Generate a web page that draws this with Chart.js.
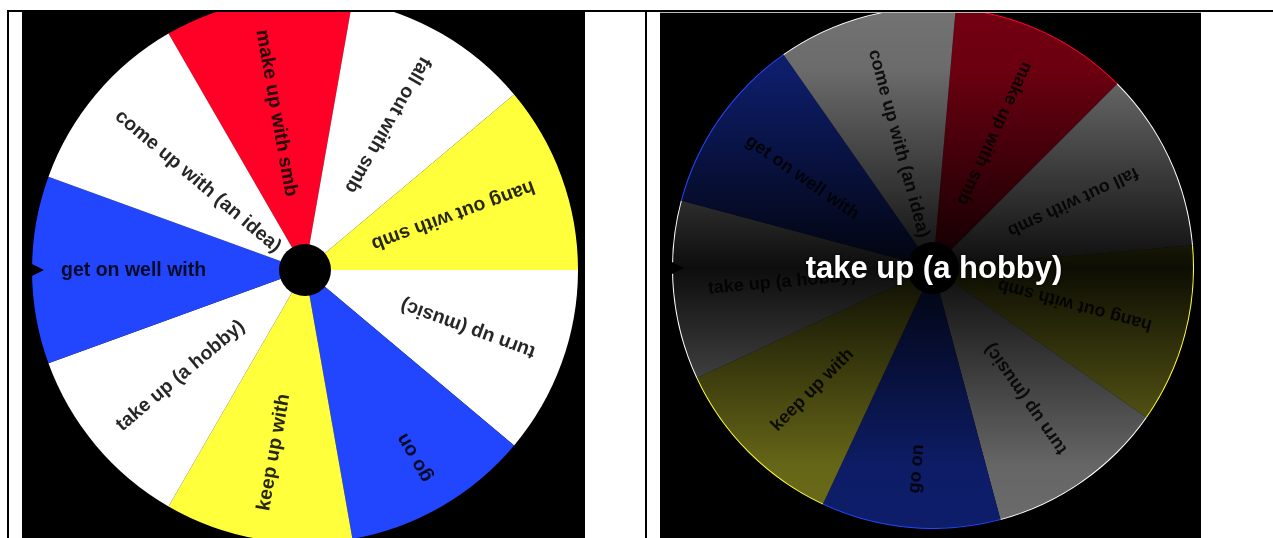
<!DOCTYPE html>
<html lang="en">
<head>
  <meta charset="UTF-8">
  <title>Spin wheel</title>
  <script src="https://cdn.jsdelivr.net/npm/chart.js@4.4.1/dist/chart.umd.min.js"></script>
  <style>
    body { margin: 0; background: #fff; font-family: 'Liberation Sans', Arial, sans-serif; }
    .line { position: absolute; background: #000; }
    .panel { position: absolute; background: #000; overflow: hidden; }
    .panel canvas { position: absolute; }
  </style>
</head>
<body>
  <div class="line" style="left:7px; top:10px; width:1266px; height:2px;"></div>
  <div class="line" style="left:7px; top:10px; width:2px; height:528px;"></div>
  <div class="line" style="left:645px; top:10px; width:2px; height:528px;"></div>

  <div class="panel" style="left:22px; top:12px; width:563px; height:526px;">
    <canvas id="wheel1" width="546" height="546" style="left:10px; top:-15px;"></canvas>
  </div>
  <div class="panel" style="left:660px; top:12px; width:541px; height:526px; border-top:1px solid #bbb; box-sizing:border-box;">
    <canvas id="wheel2" width="522" height="522" style="left:12px; top:-6px;"></canvas>
  </div>

  <script>
    // slices clockwise, starting at the first boundary
    const phrases = ['make up with smb', 'fall out with smb', 'hang out with smb', 'turn up (music)', 'go on',
      'keep up with', 'take up (a hobby)', 'get on well with', 'come up with (an idea)'];
    const shares = [1, 1, 1, 1, 1, 1, 1, 1, 1];
    const sliceColors = ['#ff0026', '#ffffff', '#ffff3c', '#ffffff', '#2146fd',
      '#ffff3c', '#ffffff', '#2146fd', '#ffffff'];
    const winner = 'take up (a hobby)';

    function labelPlugin(inset, size) {
      return {
        id: 'labels',
        afterDatasetsDraw(chart) {
          const ctx = chart.ctx;
          const arcs = chart.getDatasetMeta(0).data;
          ctx.save();
          ctx.font = 'bold ' + size + 'px "Liberation Sans", Arial, sans-serif';
          ctx.fillStyle = 'rgba(0,0,0,0.85)';
          ctx.textAlign = 'left';
          ctx.textBaseline = 'middle';
          arcs.forEach((arc, i) => {
            const mid = (arc.startAngle + arc.endAngle) / 2;
            ctx.save();
            ctx.translate(arc.x, arc.y);
            ctx.rotate(mid + Math.PI);
            ctx.fillText(chart.data.labels[i], -(arc.outerRadius - inset), 1);
            ctx.restore();
          });
          // hub and pointer
          const a = arcs[0];
          ctx.fillStyle = '#000';
          ctx.beginPath();
          ctx.arc(a.x, a.y, 26, 0, Math.PI * 2);
          ctx.fill();
          ctx.beginPath();
          ctx.moveTo(a.x - a.outerRadius - 2, a.y - 7);
          ctx.lineTo(a.x - a.outerRadius + 12, a.y);
          ctx.lineTo(a.x - a.outerRadius - 2, a.y + 7);
          ctx.fill();
          ctx.restore();
        }
      };
    }

    const shadePlugin = {
      id: 'shade',
      afterDraw(chart) {
        const ctx = chart.ctx;
        const a = chart.getDatasetMeta(0).data[0];
        const r = a.outerRadius;
        const g = ctx.createLinearGradient(0, a.y - r, 0, a.y + r);
        g.addColorStop(0, 'rgba(0,0,0,0.55)');
        g.addColorStop(0.12, 'rgba(0,0,0,0.58)');
        g.addColorStop(0.5, 'rgba(0,0,0,0.95)');
        g.addColorStop(0.88, 'rgba(0,0,0,0.6)');
        g.addColorStop(1, 'rgba(0,0,0,0.58)');
        ctx.save();
        ctx.fillStyle = g;
        ctx.beginPath();
        ctx.arc(a.x, a.y, r - 1, 0, Math.PI * 2);
        ctx.fill();
        ctx.font = 'bold 31px "Liberation Sans", Arial, sans-serif';
        ctx.textAlign = 'center';
        ctx.textBaseline = 'middle';
        ctx.shadowColor = 'rgba(0,0,0,0.9)';
        ctx.shadowBlur = 4;
        ctx.fillStyle = '#fff';
        ctx.fillText(winner, a.x + 1, a.y + 1);
        ctx.restore();
      }
    };

    function makeWheel(id, rotation, inset, size, extra) {
      return new Chart(document.getElementById(id), {
        type: 'pie',
        data: {
          labels: phrases,
          datasets: [{
            data: shares,
            backgroundColor: sliceColors,
            borderWidth: 0
          }]
        },
        options: {
          responsive: false,
          animation: false,
          rotation: rotation,
          layout: { padding: 0 },
          plugins: { legend: { display: false }, tooltip: { enabled: false } }
        },
        plugins: [labelPlugin(inset, size)].concat(extra)
      });
    }

    makeWheel('wheel1', -30, 29, 19.5, []);
    makeWheel('wheel2', 5, 35, 18, [shadePlugin]);
  </script>
</body>
</html>
